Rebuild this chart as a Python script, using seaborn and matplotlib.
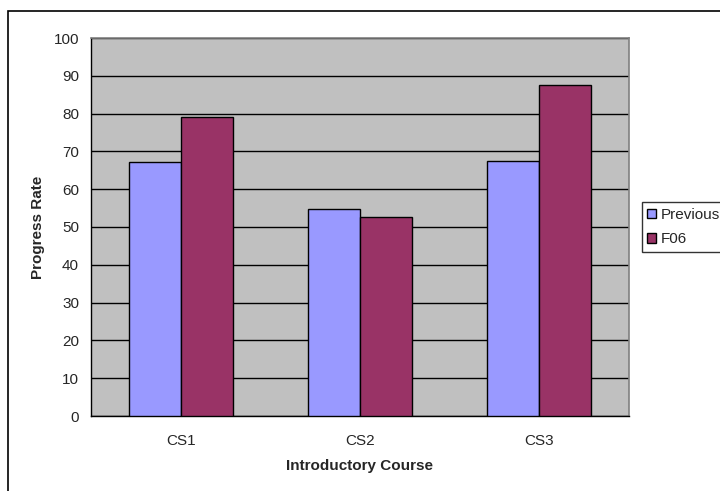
import matplotlib
matplotlib.use("Agg")
import pandas as pd
import matplotlib.pyplot as plt
import seaborn as sns
from matplotlib.patches import Rectangle

courses = ["CS1", "CS2", "CS3"]
previous = [67.2, 54.7, 67.5]
f06 = [79.0, 52.7, 87.6]
series_names = ["Previous", "F06"]
y_ticks = list(range(0, 101, 10))

df = pd.DataFrame({
    "course": courses * 2,
    "rate": previous + f06,
    "series": [series_names[0]] * 3 + [series_names[1]] * 3,
})

sns.set_style("white")
plt.rcParams["font.family"] = ["Liberation Sans", "DejaVu Sans"]
fs = 11

fig = plt.figure(figsize=(7.2, 4.91), dpi=100)
ax = fig.add_axes([91 / 720, 1 - 416 / 491, 538 / 720, 378 / 491])
ax.set_facecolor("#C0C0C0")

sns.barplot(data=df, x="course", y="rate", hue="series",
            palette=["#9999FF", "#993366"], width=0.58, gap=0,
            edgecolor="black", linewidth=1, saturation=1, ax=ax, zorder=3)

ax.set_ylim(0, 100)
ax.set_xlim(-0.5, 2.5)
ax.set_yticks(y_ticks)
ax.yaxis.grid(True, color="black", linewidth=1, zorder=1)
ax.set_axisbelow(True)

# Excel-style category ticks at the boundaries
ax.set_xticks([-0.5, 0.5, 1.5, 2.5], minor=True)
ax.tick_params(axis="x", which="major", length=0, pad=13, labelsize=fs)
ax.tick_params(axis="x", which="minor", length=3.6, width=1, direction="out", color="black")
ax.tick_params(axis="y", length=3.6, width=1, direction="out", color="black", labelsize=fs, pad=5)

for side in ["left", "bottom"]:
    ax.spines[side].set_color("black")
    ax.spines[side].set_linewidth(1)
for side in ["top", "right"]:
    ax.spines[side].set_color("#808080")
    ax.spines[side].set_linewidth(1.2)

ax.set_xlabel("Introductory Course", fontsize=fs, fontweight="bold", labelpad=8)
ax.set_ylabel("Progress Rate", fontsize=fs, fontweight="bold", labelpad=6)

handles, labels = ax.get_legend_handles_labels()
ax.legend_.remove()
leg = fig.legend(handles, labels, loc="center left", bbox_to_anchor=(642 / 720, 1 - 227 / 491),
                 frameon=True, fancybox=False, edgecolor="black", fontsize=fs,
                 handlelength=0.55, handleheight=0.55, handletextpad=0.35,
                 borderpad=0.35, labelspacing=0.7, borderaxespad=0)
leg.get_frame().set_linewidth(1)

# outer chart border (cropped at right and bottom)
fig.patches.append(Rectangle((8 / 720, -0.05), 1.0, 1 - 11 / 491 + 0.05,
                             transform=fig.transFigure, fill=False,
                             edgecolor="black", linewidth=1.2))

fig.savefig("out.png", dpi=100)
